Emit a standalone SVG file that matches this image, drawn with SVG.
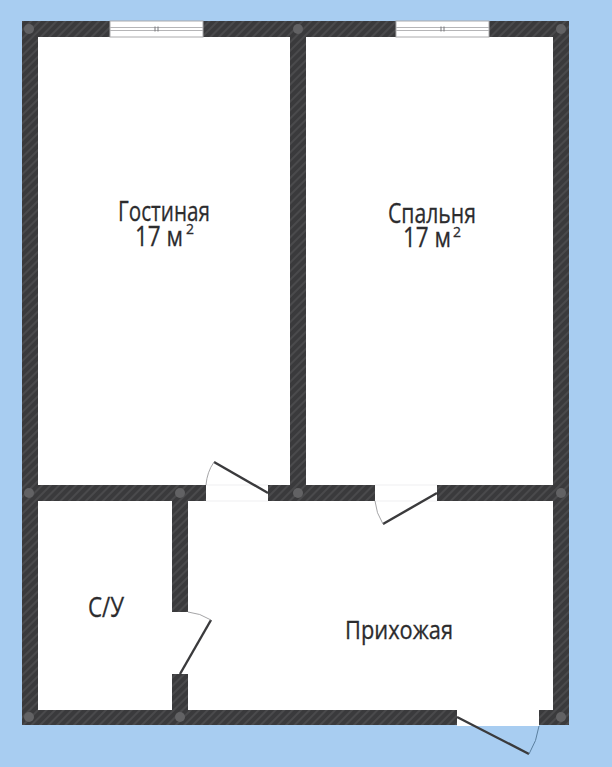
<svg xmlns="http://www.w3.org/2000/svg" width="612" height="767" viewBox="0 0 612 767">
<defs>
<pattern id="hatch" width="6" height="6" patternUnits="userSpaceOnUse" patternTransform="rotate(-45)">
<rect width="6" height="6" fill="#3a3a3c"/>
<rect width="6" height="2" fill="#4a4a4c"/>
</pattern>
</defs>
<style>
.wall{fill:url(#hatch)}
.post{fill:#626264}
.leaf{fill:none;stroke:#3a3a3c;stroke-width:2.4}
.arc{fill:none;stroke:#a5a5a7;stroke-width:1}
.sill{fill:none;stroke:#efeff1;stroke-width:1}
.win{fill:#fff;stroke:#aaaaac;stroke-width:1}
.t{font-family:"Open Sans","Noto Sans",sans-serif;fill:#2c2c2e;stroke:#2c2c2e;stroke-width:.3;text-anchor:start}
</style>
<rect width="612" height="767" fill="#a8cdf1"/>
<rect id="floor" x="22" y="21" width="547" height="704" fill="#fff"/>
<g id="walls">
<path class="wall" d="M22 21H569V725H539V710H553V501H437V485H553V37H306V485H375V501H268V485H290V37H38V485H206V501H188V612H172V501H38V710H172V674H188V710H457V725H22Z"/>
</g>
<g id="posts">
<circle class="post" cx="29" cy="29" r="5"/>
<circle class="post" cx="298" cy="29" r="5"/>
<circle class="post" cx="561" cy="29" r="5"/>
<circle class="post" cx="29" cy="493" r="5"/>
<circle class="post" cx="180" cy="493" r="5"/>
<circle class="post" cx="298" cy="493" r="5"/>
<circle class="post" cx="561" cy="493" r="5"/>
<circle class="post" cx="29" cy="717" r="5"/>
<circle class="post" cx="180" cy="717" r="5"/>
<circle class="post" cx="561" cy="717" r="5"/>
</g>
<g id="window-left">
<rect class="win" x="110" y="21" width="93" height="16"/>
<path d="M110 27.500H203M110 30.500H203" fill="none" stroke="#b5b5b7" stroke-width="1"/>
<path d="M155 26.500V31.500M158 26.500V31.500" fill="none" stroke="#77777a" stroke-width="1"/>
</g>
<g id="window-right">
<rect class="win" x="396" y="21" width="93" height="16"/>
<path d="M396 27.500H489M396 30.500H489" fill="none" stroke="#b5b5b7" stroke-width="1"/>
<path d="M441 26.500V31.500M444 26.500V31.500" fill="none" stroke="#77777a" stroke-width="1"/>
</g>
<g id="connectors">
<path class="sill" d="M206 485H268M206 501H268M375 485H437M375 501H437"/>
<path class="leaf" d="M268 493L214 462"/>
<path class="arc" d="M214 462Q207 472 206 485"/>
<path class="leaf" d="M437 493L383 524"/>
<path class="arc" d="M383 524Q376 513 375 501"/>
<path class="leaf" d="M180 674L211 620"/>
<path class="arc" d="M211 620Q200 613 188 612"/>
<rect x="457" y="710" width="82" height="16" fill="#fff"/>
<path class="leaf" d="M457 717L529 754"/>
<path d="M529 754Q537 741 539 726" fill="none" stroke="#5a7f9f" stroke-width="1"/>
</g>
<g id="room-living">
<text class="t" x="118" y="221" font-size="28" textLength="92" lengthAdjust="spacingAndGlyphs">Гостиная</text>
<text class="t" x="135" y="246" font-size="28" textLength="48" lengthAdjust="spacingAndGlyphs">17 м</text>
<text class="t" x="186" y="234" font-size="15" textLength="8" lengthAdjust="spacingAndGlyphs">2</text>
</g>
<g id="room-bedroom">
<text class="t" x="388" y="223" font-size="28" textLength="88" lengthAdjust="spacingAndGlyphs">Спальня</text>
<text class="t" x="403" y="247" font-size="28" textLength="48" lengthAdjust="spacingAndGlyphs">17 м</text>
<text class="t" x="453" y="237" font-size="15" textLength="8" lengthAdjust="spacingAndGlyphs">2</text>
</g>
<g id="room-bath"><text class="t" x="88" y="617" font-size="28" textLength="36" lengthAdjust="spacingAndGlyphs">С/У</text></g>
<g id="room-hall"><text class="t" x="345" y="639" font-size="26" textLength="108" lengthAdjust="spacingAndGlyphs">Прихожая</text></g>
</svg>
